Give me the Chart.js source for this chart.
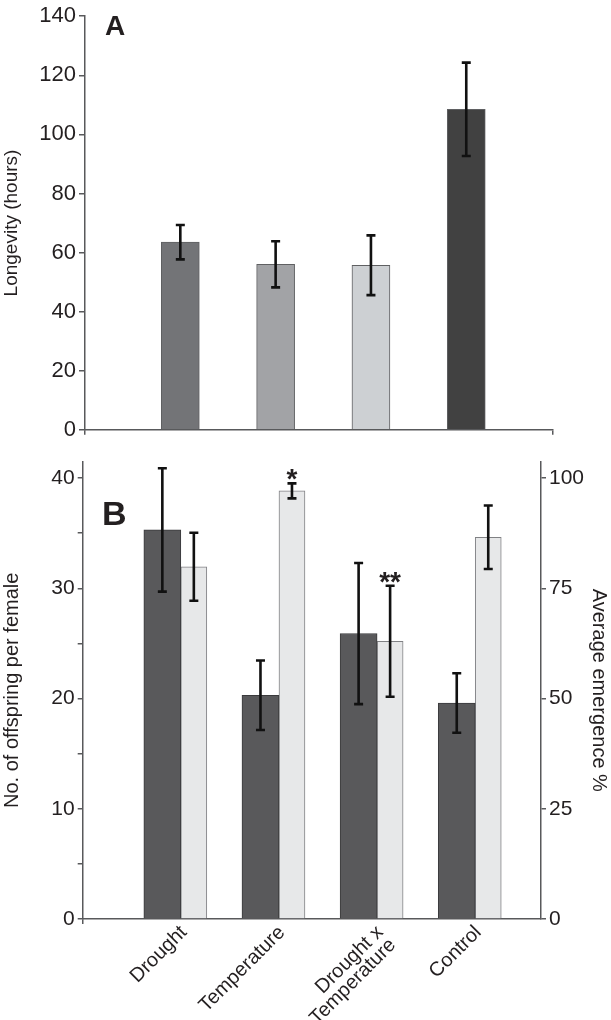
<!DOCTYPE html>
<html>
<head>
<meta charset="utf-8">
<script src="https://cdn.jsdelivr.net/npm/chart.js@4.4.1/dist/chart.umd.min.js"></script>
<style>
    html, body { margin: 0; padding: 0; background: #fff; }
    #panelA { position: absolute; left: 0; top: 0; width: 611px; height: 446px; }
    #panelB { position: absolute; left: 0; top: 446px; width: 611px; height: 574px; }
</style>
</head>
<body>
<div id="panelA"><canvas id="graficoA" width="611" height="446"></canvas></div>
<div id="panelB"><canvas id="graficoB" width="611" height="574"></canvas></div>
<script>
// Datos del panel A (longevidad)
const tratamientos = ['Drought', 'Temperature', ['Drought x', 'Temperature'], 'Control'];
const longevidad = [63.5, 56.0, 55.7, 108.5];
const longevidadError = [5.8, 7.8, 10.1, 15.8];
const coloresA = ['#737477', '#a2a3a6', '#cdd0d3', '#414141'];
const ticksLongevidad = [0, 20, 40, 60, 80, 100, 120, 140];

// Datos del panel B (descendencia y emergencia)
const crias = [35.3, 20.3, 25.9, 19.6];
const criasError = [5.6, 3.15, 6.4, 2.7];
const emergencia = [79.9, 97.1, 63.0, 86.6];
const emergenciaError = [7.7, 1.7, 12.6, 7.2];
const significancia = ['', '*', '**', ''];
const ticksCrias = [0, 10, 20, 30, 40];
const ticksEmergencia = [0, 25, 50, 75, 100];

const colorEje = '#58595b';
const colorTexto = '#231f20';
Chart.defaults.font.family = "'Liberation Sans', Arial, sans-serif";
Chart.defaults.color = colorTexto;

// Posicion de cada tratamiento en el eje x (1..4)
const puntos = valores => valores.map((v, i) => ({ x: i + 1, y: v }));
const aTicks = valores => valores.map(v => ({ value: v }));

// Plugin para barras de error, asteriscos y la letra del panel
const pluginExtras = {
    id: 'extras',
    afterDatasetsDraw(chart, args, opts) {
        const ctx = chart.ctx;
        chart.data.datasets.forEach((ds, di) => {
            if (!ds.errores) return;
            const meta = chart.getDatasetMeta(di);
            const escala = chart.scales[ds.yAxisID || 'y'];
            meta.data.forEach((barra, i) => {
                const v = ds.data[i].y;
                const yArriba = escala.getPixelForValue(v + ds.errores[i]);
                const yAbajo = escala.getPixelForValue(v - ds.errores[i]);
                ctx.save();
                ctx.strokeStyle = '#111';
                ctx.lineWidth = 2.6;
                ctx.beginPath();
                ctx.moveTo(barra.x, yArriba);
                ctx.lineTo(barra.x, yAbajo);
                ctx.moveTo(barra.x - 4.5, yArriba);
                ctx.lineTo(barra.x + 4.5, yArriba);
                ctx.moveTo(barra.x - 4.5, yAbajo);
                ctx.lineTo(barra.x + 4.5, yAbajo);
                ctx.stroke();
                if (ds.marcas && ds.marcas[i]) {
                    ctx.fillStyle = colorTexto;
                    ctx.font = "bold 28px 'Liberation Sans', Arial, sans-serif";
                    ctx.textAlign = 'center';
                    ctx.textBaseline = 'alphabetic';
                    ctx.fillText(ds.marcas[i], barra.x, yArriba + 5);
                }
                ctx.restore();
            });
        });
        if (opts.letra) {
            ctx.save();
            ctx.fillStyle = colorTexto;
            ctx.font = 'bold ' + opts.tam + "px 'Liberation Sans', Arial, sans-serif";
            ctx.textAlign = 'left';
            ctx.textBaseline = 'alphabetic';
            ctx.fillText(opts.letra, opts.x, opts.y);
            ctx.restore();
        }
    }
};

// Grafico A
new Chart(document.getElementById('graficoA'), {
    type: 'bar',
    data: {
        datasets: [{
            data: puntos(longevidad),
            errores: longevidadError,
            backgroundColor: coloresA,
            borderColor: '#5f6062',
            borderWidth: 1,
            barThickness: 38
        }]
    },
    plugins: [pluginExtras],
    options: {
        responsive: false,
        animation: false,
        layout: { padding: { top: 13, right: 58, left: 0, bottom: 0 } },
        plugins: {
            legend: { display: false },
            tooltip: { enabled: false },
            extras: { letra: 'A', tam: 28, x: 105, y: 35 }
        },
        scales: {
            x: {
                type: 'linear', min: 0, max: 4.91, offset: false,
                afterBuildTicks: s => { s.ticks = aTicks([0, s.max]); },
                ticks: { display: false },
                grid: { offset: false, drawOnChartArea: false, tickLength: 5, color: colorEje, lineWidth: 1.5 },
                border: { color: colorEje, width: 1.5 },
                afterFit: s => { s.height = 12; }
            },
            y: {
                min: 0, max: 140,
                afterBuildTicks: s => { s.ticks = aTicks(ticksLongevidad); },
                ticks: { font: { size: 22 }, padding: 3, color: colorTexto },
                grid: { drawOnChartArea: false, tickLength: 6, color: colorEje, lineWidth: 1.5 },
                border: { color: colorEje, width: 1.5 },
                title: { display: true, text: 'Longevity (hours)', font: { size: 19 }, padding: 0, color: colorTexto },
                afterFit: s => { s.width = 85; }
            }
        }
    }
});

// Grafico B
new Chart(document.getElementById('graficoB'), {
    type: 'bar',
    data: {
        datasets: [{
            data: puntos(crias),
            errores: criasError,
            backgroundColor: '#59595b',
            borderColor: '#3a3a3c',
            borderWidth: 1,
            barThickness: 37,
            yAxisID: 'y'
        }, {
            data: puntos(emergencia),
            errores: emergenciaError,
            marcas: significancia,
            backgroundColor: '#e7e8e9',
            borderColor: '#808184',
            borderWidth: 1,
            barThickness: 26,
            yAxisID: 'y1'
        }]
    },
    plugins: [pluginExtras],
    options: {
        responsive: false,
        animation: false,
        layout: { padding: { top: 0, right: 0, left: 0, bottom: 0 } },
        plugins: {
            legend: { display: false },
            tooltip: { enabled: false },
            extras: { letra: 'B', tam: 34, x: 102, y: 79 }
        },
        scales: {
            x: {
                type: 'linear', min: 0, max: 4.67, offset: false,
                afterBuildTicks: s => {
                    s.ticks = aTicks([0].concat(tratamientos.map((t, i) => i + 1), [s.max]));
                },
                ticks: {
                    autoSkip: false, minRotation: 45, maxRotation: 45, padding: -1, labelOffset: 3,
                    font: { size: 20, lineHeight: 0.9 }, color: colorTexto,
                    callback: v => (Number.isInteger(v) && v >= 1 && v <= tratamientos.length) ? tratamientos[v - 1] : ''
                },
                grid: {
                    offset: false, drawOnChartArea: false, tickLength: 5, lineWidth: 1.5,
                    color: c => (c.tick && c.tick.value === 0) ? colorEje : 'rgba(0,0,0,0)'
                },
                border: { color: colorEje, width: 1.5 },
                afterFit: s => { s.height = 101; }
            },
            y: {
                min: 0, max: 41.5,
                // marcas menores a mitad de camino entre las etiquetas
                afterBuildTicks: s => {
                    s.ticks = aTicks(ticksCrias.flatMap((v, i) => i ? [(v + ticksCrias[i - 1]) / 2, v] : [v]));
                },
                ticks: {
                    font: { size: 21 }, padding: 3, color: colorTexto,
                    callback: v => (ticksCrias.includes(v) ? v : '')
                },
                grid: { drawOnChartArea: false, tickLength: 5, color: colorEje, lineWidth: 1.5 },
                border: { color: colorEje, width: 1.5 },
                title: { display: true, text: 'No. of offspring per female', font: { size: 20 }, padding: 0, color: colorTexto },
                afterFit: s => { s.width = 82.7; }
            },
            y1: {
                position: 'right', min: 0, max: 103.75,
                afterBuildTicks: s => { s.ticks = aTicks(ticksEmergencia); },
                ticks: { font: { size: 21 }, padding: 3, color: colorTexto },
                grid: { drawOnChartArea: false, tickLength: 5, color: colorEje, lineWidth: 1.5 },
                border: { color: colorEje, width: 1.5 },
                title: { display: true, text: 'Average emergence %', font: { size: 20 }, padding: 0, color: colorTexto },
                afterFit: s => { s.width = 70; }
            }
        }
    }
});
</script>
</body>
</html>
